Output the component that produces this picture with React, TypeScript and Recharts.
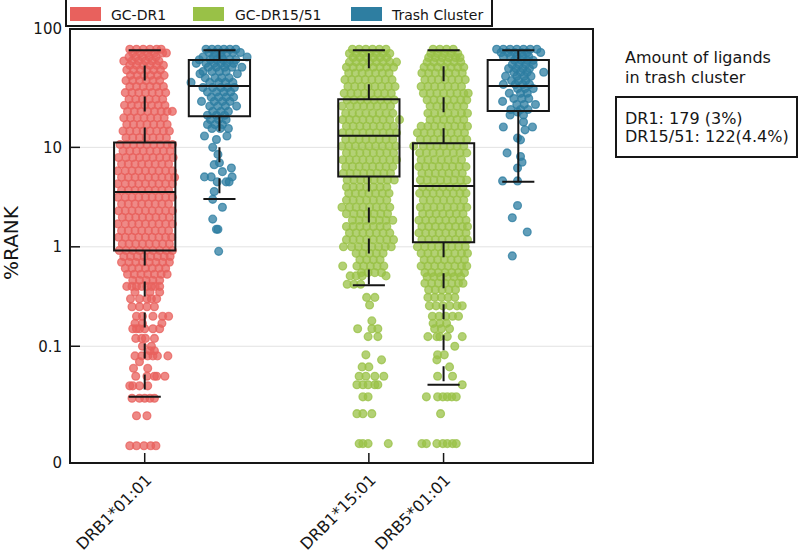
import React from 'react';
import { ComposedChart, Scatter, XAxis, YAxis, ReferenceLine, ReferenceArea } from 'recharts';

// ---- data ----
const categories = ['DRB1*01:01', 'DRB1*15:01', 'DRB5*01:01'];
const categorySlots = [0, 3, 4];
const yDomain = [0.0067, 155];
const yTicks = [0.0067, 0.1, 1, 10, 155];
const yTickLabels = ['0', '0.1', '1', '10', '100'];
const gridValues = [0.1, 1, 10];
const legendLabels = ['GC-DR1', 'GC-DR15/51', 'Trash Cluster'];
const noteTitle = ['Amount of ligands', 'in trash cluster'];
const noteLines = ['DR1: 179 (3%)', 'DR15/51: 122(4.4%)'];

// [lower whisker, Q1, median, Q3, upper whisker]
const dr1Box = [0.031, 0.92, 3.55, 11.2, 95];
const dr1TrashBox = [3.03, 20.5, 41.5, 75.6, 95];
const dr15Box = [0.41, 5.1, 13.1, 30.4, 95];
const dr5Box = [0.041, 1.11, 4.1, 11.0, 95];
const dr15TrashBox = [4.5, 23.2, 41.5, 75.6, 95];

// rows of points: [%rank, jitter offsets...]
const dr1Rows = [
  [97, -.2, -.11, -.02, .07, .16, .22],
  [89, -.16, -.06, .04, .13, .24, .29],
  [81, -.21, -.12, -.03, .06, .15],
  [74, -.28, -.17, -.08, .01, .1, .19],
  [67, -.2, -.11, -.02, .07, .16, .25],
  [60, -.24, -.15, -.06, .03, .12, .21],
  [53, -.19, -.1, -.01, .08, .17, .26],
  [47, -.25, -.16, -.07, .02, .11, .2],
  [41, -.2, -.11, -.02, .07, .16, .25],
  [35.5, -.26, -.17, -.08, .01, .1, .19, .28],
  [30.5, -.21, -.12, -.03, .06, .15, .24],
  [26.5, -.27, -.18, -.09, 0, .09, .18, .27],
  [23, -.23, -.14, -.05, .04, .13, .22, .3, .37],
  [19.8, -.28, -.19, -.1, -.01, .08, .17, .26],
  [17, -.24, -.15, -.06, .03, .12, .21, .3],
  [14.6, -.29, -.2, -.11, -.02, .07, .16, .25, .33],
  [12.5, -.25, -.16, -.07, .02, .11, .2, .29],
  [10.7, -.33, -.24, -.15, -.06, .03, .12, .21, .3, .37],
  [9.2, -.29, -.2, -.11, -.02, .07, .16, .25, .34],
  [7.9, -.35, -.25, -.16, -.07, .02, .11, .2, .29, .38],
  [6.8, -.31, -.22, -.13, -.04, .05, .14, .23, .32],
  [5.8, -.36, -.26, -.17, -.08, .01, .1, .19, .28, .37],
  [5.0, -.31, -.22, -.13, -.04, .05, .14, .23, .32, .4],
  [4.3, -.36, -.26, -.17, -.08, .01, .1, .19, .28, .37],
  [3.7, -.31, -.22, -.13, -.04, .05, .14, .23, .32],
  [3.15, -.36, -.26, -.17, -.08, .01, .1, .19, .28, .37],
  [2.7, -.31, -.22, -.13, -.04, .05, .14, .23, .32],
  [2.3, -.35, -.26, -.17, -.08, .01, .1, .19, .28, .37],
  [1.98, -.3, -.21, -.12, -.03, .06, .15, .24, .33],
  [1.7, -.36, -.26, -.17, -.08, .01, .1, .19, .28, .37],
  [1.45, -.31, -.22, -.13, -.04, .05, .14, .23, .32],
  [1.25, -.35, -.26, -.17, -.08, .01, .1, .19, .28, .36],
  [1.07, -.3, -.21, -.12, -.03, .06, .15, .24, .33],
  [0.92, -.34, -.25, -.16, -.07, .02, .11, .2, .29, .37],
  [0.8, -.28, -.19, -.1, -.01, .08, .17, .26, .34],
  [0.7, -.31, -.21, -.12, -.03, .06, .15, .24, .33],
  [0.61, -.26, -.17, -.08, .01, .1, .19, .28],
  [0.53, -.23, -.14, -.05, .04, .13, .22, .3],
  [0.46, -.16, -.07, .02, .11, .2],
  [0.4, -.24, -.17, -.11, -.04, .03, .09, .14, .2],
  [0.35, -.13, .07, .2],
  [0.3, -.19, -.07, .03, .09, .16],
  [0.25, -.17, -.07, .03, .13],
  [0.2, -.11, -.03, .11, .24, .32],
  [0.17, -.13, -.03, .23],
  [0.15, -.16, -.11, -.07, 0, .11, .2],
  [0.12, -.12, -.04, .01, .13],
  [0.1, -.03, .09],
  [0.09, .07, .13],
  [0.08, -.13, -.04, .04, .11, .17, .31],
  [0.07, -.07],
  [0.06, -.15, .04],
  [0.05, -.12, .03, .13, .16, .27],
  [0.04, -.2, -.16, -.07, .04],
  [0.03, -.17, -.07, 0, .07, .13],
  [0.02, -.11, .03],
  [0.01, -.2, -.11, -.01, .08, .15],
];

const dr1TrashRows = [
  [97, -.18, -.1, -.02, .06, .14, .22],
  [90, -.14, -.06, .02, .1, .18, .28],
  [81, -.22, -.08, .03, .37],
  [76, -.27, -.12, -.03, .05, .14, .22],
  [70, -.31, -.18, -.07, .02, .1, .19],
  [64, -.15, -.04, .07, .17, .3],
  [58, -.22, -.1, 0, .09],
  [55, .24, -.26],
  [50, -.19, -.06, .03, .13],
  [45, -.38, -.13, -.01, .08, .18],
  [40, -.22, -.09, .02, .11, .2],
  [36, -.16, -.04, .06, .15],
  [32, -.11, -.01, .09, .19],
  [29, -.24, -.07, .04, .14],
  [26, -.13, -.02, .08, .23],
  [23, -.09, .02, .12],
  [21, -.16, -.04, .07],
  [19, -.12, -.01, .09],
  [17, -.16, -.06, .04],
  [15.5, -.1, .01, .12],
  [13, -.2, .1],
  [12, -.04],
  [10, -.09],
  [8.5, -.02],
  [7, 0],
  [6.7, -.07],
  [6.2, .16],
  [5.7, .04],
  [5.05, -.2, -.11, .17],
  [4.5, -.03, .09, .13],
  [3.6, -.07],
  [3.0, -.09],
  [2.5, .04],
  [1.9, -.09],
  [1.5, -.04, -.02],
  [0.9, -.01],
];

const dr15Rows = [
  [97, -.22, -.13, -.04, .05, .14, .23],
  [88, -.26, -.17, -.08, .01, .1, .19, .28],
  [80, -.21, -.12, -.03, .06, .15, .24],
  [72, -.26, -.17, -.08, .01, .1, .19, .28, .37],
  [64, -.3, -.21, -.12, -.03, .06, .15, .24, .33],
  [56, -.27, -.18, -.09, 0, .09, .18, .27],
  [48, -.32, -.23, -.14, -.05, .04, .13, .22, .31],
  [41, -.28, -.19, -.1, -.01, .08, .17, .26, .35],
  [35, -.33, -.24, -.15, -.06, .03, .12, .21, .3],
  [30, -.29, -.2, -.11, -.02, .07, .16, .25, .34],
  [26, -.36, -.25, -.16, -.07, .02, .11, .2, .29],
  [22, -.31, -.22, -.13, -.04, .05, .14, .23, .32],
  [19, -.35, -.26, -.17, -.08, .01, .1, .19, .28, .41],
  [16.3, -.3, -.21, -.12, -.03, .06, .15, .24, .33],
  [14, -.35, -.26, -.17, -.08, .01, .1, .19, .28, .37],
  [12, -.31, -.22, -.13, -.04, .05, .14, .23, .32],
  [10.3, -.36, -.27, -.18, -.09, 0, .09, .18, .27, .36],
  [8.8, -.3, -.21, -.12, -.03, .06, .15, .24, .33],
  [7.5, -.35, -.26, -.17, -.08, .01, .1, .19, .28, .37],
  [6.4, -.31, -.22, -.13, -.04, .05, .14, .23, .32],
  [5.5, -.34, -.25, -.16, -.07, .02, .11, .2, .29],
  [4.7, -.29, -.2, -.11, -.02, .07, .16, .25, .34],
  [4.0, -.3, -.21, -.12, -.03, .06, .15, .24],
  [3.45, -.27, -.18, -.09, 0, .09, .18, .27],
  [2.95, -.3, -.21, -.12, -.03, .06, .15, .24],
  [2.5, -.36, -.26, -.17, -.08, .01, .1, .19, .28],
  [2.15, -.3, -.2, -.11, -.02, .07, .16, .25],
  [1.85, -.22, -.13, -.04, .05, .14, .23, .32],
  [1.6, -.3, -.21, -.12, -.03, .06, .15, .24],
  [1.38, -.26, -.17, -.08, .01, .1, .19, .28],
  [1.18, -.3, -.21, -.12, -.03, .06, .15, .24, .33],
  [1.0, -.34, -.23, -.14, -.05, .04, .13, .22, .3],
  [0.86, -.17, -.08, .01, .1, .19],
  [0.74, -.12, -.03, .06, .15],
  [0.64, -.35, -.16, -.07, .02, .11, .2],
  [0.55, -.1, -.01, .08, .17],
  [0.51, -.25, -.17, -.09, .23],
  [0.42, -.29, -.2, -.11],
  [0.31, -.03, .08],
  [0.26, .01],
  [0.18, .04],
  [0.15, -.15, .04, .12],
  [0.125, -.01, .12],
  [0.082, -.04],
  [0.073, .17],
  [0.062, -.09, 0],
  [0.05, -.13, -.04, .08, .2],
  [0.041, -.16, -.08, -.01, .08, .12],
  [0.031, -.08, -.01],
  [0.021, -.16, -.08, .04],
  [0.0105, -.13, -.08, -.01, .26],
];

const dr5Rows = [
  [97, -.14, -.05, .04, .13],
  [88, -.17, -.08, .01, .1, .19],
  [80, -.2, -.11, -.02, .07, .16, .22],
  [72, -.22, -.13, -.04, .05, .14, .23],
  [64, -.26, -.17, -.08, .01, .1, .19, .27],
  [56, -.29, -.2, -.11, -.02, .07, .16, .25],
  [48, -.25, -.16, -.07, .02, .11, .2, .29],
  [41, -.3, -.21, -.12, -.03, .06, .15, .24],
  [35, -.27, -.18, -.09, 0, .09, .18, .27, .33],
  [30, -.22, -.13, -.04, .05, .14, .23, .31],
  [26, -.18, -.09, 0, .09, .18, .27],
  [22, -.21, -.12, -.03, .06, .15, .24, .32],
  [19, -.18, -.09, 0, .09, .18, .27],
  [16.3, -.3, -.21, -.12, -.03, .06, .15, .24, .32],
  [14, -.35, -.26, -.17, -.08, .01, .1, .19, .28],
  [12, -.31, -.22, -.13, -.04, .05, .14, .23, .31],
  [10.3, -.4, -.27, -.18, -.09, 0, .09, .18, .27],
  [8.8, -.32, -.23, -.14, -.05, .04, .13, .22, .31],
  [7.5, -.3, -.21, -.12, -.03, .06, .15, .24],
  [6.4, -.33, -.24, -.15, -.06, .03, .12, .21, .3],
  [5.5, -.29, -.2, -.11, -.02, .07, .16, .25],
  [4.7, -.31, -.22, -.13, -.04, .05, .14, .23, .31],
  [4.0, -.28, -.19, -.1, -.01, .08, .17, .26],
  [3.45, -.32, -.23, -.14, -.05, .04, .13, .22, .3],
  [2.95, -.27, -.18, -.09, 0, .09, .18, .27],
  [2.5, -.31, -.22, -.13, -.04, .05, .14, .23, .31],
  [2.15, -.28, -.19, -.1, -.01, .08, .17, .26],
  [1.85, -.33, -.24, -.15, -.06, .03, .12, .21, .3],
  [1.6, -.29, -.2, -.11, -.02, .07, .16, .25, .32],
  [1.38, -.33, -.24, -.15, -.06, .03, .12, .21, .3],
  [1.18, -.29, -.2, -.11, -.02, .07, .16, .25, .32],
  [1.0, -.35, -.25, -.16, -.07, .02, .11, .2, .29],
  [0.86, -.3, -.21, -.12, -.03, .06, .15, .24, .32],
  [0.74, -.26, -.17, -.08, .01, .1, .19, .28],
  [0.64, -.3, -.21, -.12, -.03, .06, .15, .24, .31],
  [0.55, -.25, -.16, -.07, .02, .11, .2, .28],
  [0.5, -.22, -.13, -.04, .05, .14, .23],
  [0.43, -.25, -.16, -.07, .02, .11, .2, .26],
  [0.37, -.2, -.11, -.02, .07, .16],
  [0.31, -.21, -.12, -.03, .06, .15],
  [0.255, -.19, -.1, -.01, .08, .18, .25],
  [0.2, -.15, -.06, .03, .12, .2],
  [0.17, -.14, -.05, .04],
  [0.15, -.12, -.03, .08],
  [0.125, -.21, -.09, -.05, .05, .25],
  [0.1, .15],
  [0.082, -.08, .01],
  [0.073, -.09],
  [0.062, .08],
  [0.05, -.08, .12],
  [0.041, .25],
  [0.031, -.23, -.08, -.01, .05, .11, .17],
  [0.021, -.04],
  [0.0105, -.29, -.23, -.09, -.01, .05, .12, .17],
];

const dr15TrashRows = [
  [97, -.29, -.2, -.11, -.02, .07, .16, .25],
  [90, -.23, -.14, -.05, .04, .12, .3],
  [82, -.2, -.1, -.02, .06, .14],
  [75, -.05, .04, .12, .2],
  [68, -.08, .01, .1, .2],
  [62, -.13, -.03, .06, .15],
  [57, -.06, .03, .12, .34],
  [52, -.17, -.02, .08, .17],
  [47, -.09, 0, .1],
  [43, -.2, -.04, .06, .15],
  [39, -.01, .09, .2],
  [35, -.12, .03, .12],
  [31, -.06, .05, .14],
  [29, -.21],
  [27, -.02, .08, .23],
  [24, -.1, .03, .13],
  [22.7, -.01],
  [21.2, -.11, .07],
  [18, .07],
  [16, -.2, .19],
  [15, .09],
  [12.4, -.01],
  [11.9, .03],
  [8.8, -.15],
  [8.1, .03],
  [7.1, .05],
  [6.2, -.01],
  [4.6, -.21, -.01],
  [2.6, -.01],
  [1.96, -.08],
  [1.41, .12],
  [0.81, -.08],
];

// ---- styling ----
const RED = '#e8615d';
const GREEN = '#99c147';
const BLUE = '#2e7ea1';
const INK = '#161616';
const FONT = '"DejaVu Sans", Verdana, sans-serif';
const BOX_HALF = 0.41;
const CAP_HALF = 0.215;

const groups = [
  { rows: dr1Rows, box: dr1Box, slot: 0, color: RED, dashed: true },
  { rows: dr1TrashRows, box: dr1TrashBox, slot: 1, color: BLUE, dashed: true },
  { rows: dr15Rows, box: dr15Box, slot: 3, color: GREEN, dashed: true },
  { rows: dr5Rows, box: dr5Box, slot: 4, color: GREEN, dashed: true },
  { rows: dr15TrashRows, box: dr15TrashBox, slot: 5, color: BLUE, dashed: false },
];

const toPoints = (rows: number[][], slot: number) =>
  rows.flatMap(([y, ...dxs]) => dxs.map((dx) => ({ x: slot + dx, y })));

const dotShape = (color: string) => (props: any) => (
  <circle
    cx={props.cx}
    cy={props.cy}
    r={3.9}
    fill={color}
    fillOpacity={0.75}
    stroke={color}
    strokeOpacity={0.75}
    strokeWidth={1.3}
  />
);

const XTick = (props: any) => {
  const { x, y, payload } = props;
  const label = categories[categorySlots.indexOf(payload.value)];
  return (
    <text
      transform={`translate(${x + 8},${y + 10}) rotate(-45)`}
      textAnchor="end"
      fontSize={16}
      fontFamily={FONT}
      fill={INK}
    >
      {label}
    </text>
  );
};

const YTick = (props: any) => {
  const { x, y, payload } = props;
  const label = yTickLabels[yTicks.indexOf(payload.value)];
  return (
    <text x={x} y={y} dy="0.36em" textAnchor="end" fontSize={15} fontFamily={FONT} fill={INK}>
      {label}
    </text>
  );
};

const App: React.FC = () => {
  const line = { stroke: INK, strokeWidth: 2, ifOverflow: 'visible' as const, zIndex: 1500 };

  const boxParts = groups.flatMap((g, i) => {
    const [lo, q1, med, q3, hi] = g.box;
    const c = g.slot;
    const dash = g.dashed ? '15 16' : undefined;
    return [
      <ReferenceLine key={`wu${i}`} segment={[{ x: c, y: q3 }, { x: c, y: hi }]} strokeDasharray={dash} {...line} />,
      <ReferenceLine key={`wl${i}`} segment={[{ x: c, y: q1 }, { x: c, y: lo }]} strokeDasharray={dash} {...line} />,
      <ReferenceLine key={`cu${i}`} segment={[{ x: c - CAP_HALF, y: hi }, { x: c + CAP_HALF, y: hi }]} {...line} />,
      <ReferenceLine key={`cl${i}`} segment={[{ x: c - CAP_HALF, y: lo }, { x: c + CAP_HALF, y: lo }]} {...line} />,
      <ReferenceArea
        key={`bx${i}`}
        x1={c - BOX_HALF}
        x2={c + BOX_HALF}
        y1={q1}
        y2={q3}
        fill="none"
        fillOpacity={0}
        {...line}
      />,
      <ReferenceLine key={`md${i}`} segment={[{ x: c - BOX_HALF, y: med }, { x: c + BOX_HALF, y: med }]} {...line} />,
    ];
  });

  // inward ticks
  const tickMarks = [
    ...yTicks.map((v) => (
      <ReferenceLine
        key={`yt${v}`}
        segment={[{ x: -1, y: v }, { x: -0.866, y: v }]}
        stroke={INK}
        strokeWidth={1.5}
        ifOverflow="visible"
        zIndex={1500}
      />
    )),
    ...categorySlots.map((s) => (
      <ReferenceLine
        key={`xt${s}`}
        segment={[{ x: s, y: yDomain[0] }, { x: s, y: 0.00845 }]}
        stroke={INK}
        strokeWidth={1.5}
        ifOverflow="visible"
        zIndex={1500}
      />
    )),
  ];

  const swatchX = [70, 193, 351];
  const legendTextX = [111, 235, 392];
  const legendColors = [RED, GREEN, BLUE];

  return (
    <div style={{ position: 'absolute', left: 0, top: 0, width: 800, height: 556, background: '#fff' }}>
      <ComposedChart width={800} height={556} margin={{ top: 29, right: 207, bottom: 0, left: 0 }}>
        <XAxis
          dataKey="x"
          type="number"
          domain={[-1, 6]}
          ticks={categorySlots}
          interval={0}
          allowDataOverflow
          tickLine={false}
          axisLine={false}
          height={93}
          tick={<XTick />}
        />
        <YAxis
          dataKey="y"
          type="number"
          scale="log"
          domain={yDomain}
          ticks={yTicks}
          interval={0}
          allowDataOverflow
          tickLine={false}
          axisLine={false}
          width={70}
          tick={<YTick />}
        />
        {gridValues.map((v) => (
          <ReferenceLine key={`g${v}`} y={v} stroke="#e2e2e2" strokeWidth={1} zIndex={-50} />
        ))}
        {groups.map((g, i) => (
          <Scatter
            key={`s${i}`}
            data={toPoints(g.rows, g.slot)}
            isAnimationActive={false}
            shape={dotShape(g.color)}
          />
        ))}
        {boxParts}
        {tickMarks}
        <ReferenceArea
          x1={-1}
          x2={6}
          y1={yDomain[0]}
          y2={yDomain[1]}
          fill="none"
          fillOpacity={0}
          {...line}
        />
      </ComposedChart>

      <svg
        width={800}
        height={556}
        style={{ position: 'absolute', left: 0, top: 0, pointerEvents: 'none' }}
        fontFamily={FONT}
      >
        <text transform="translate(18,243) rotate(-90)" textAnchor="middle" fontSize={20} fill={INK}>
          %RANK
        </text>

        <rect x={66} y={-1} width={426} height={27} fill="#fff" stroke={INK} strokeWidth={2} />
        {legendLabels.map((label, i) => (
          <g key={label}>
            <rect x={swatchX[i]} y={7} width={31} height={14} fill={legendColors[i]} />
            <text x={legendTextX[i]} y={20} fontSize={14} fill={INK}>
              {label}
            </text>
          </g>
        ))}

        {noteTitle.map((t, i) => (
          <text key={t} x={625} y={63 + i * 20} fontSize={16} fill={INK}>
            {t}
          </text>
        ))}
        <rect x={616} y={97} width={181} height={60} fill="none" stroke={INK} strokeWidth={2} />
        {noteLines.map((t, i) => (
          <text key={t} x={625} y={124 + i * 18} fontSize={16} fill={INK}>
            {t}
          </text>
        ))}
      </svg>
    </div>
  );
};

export default App;
